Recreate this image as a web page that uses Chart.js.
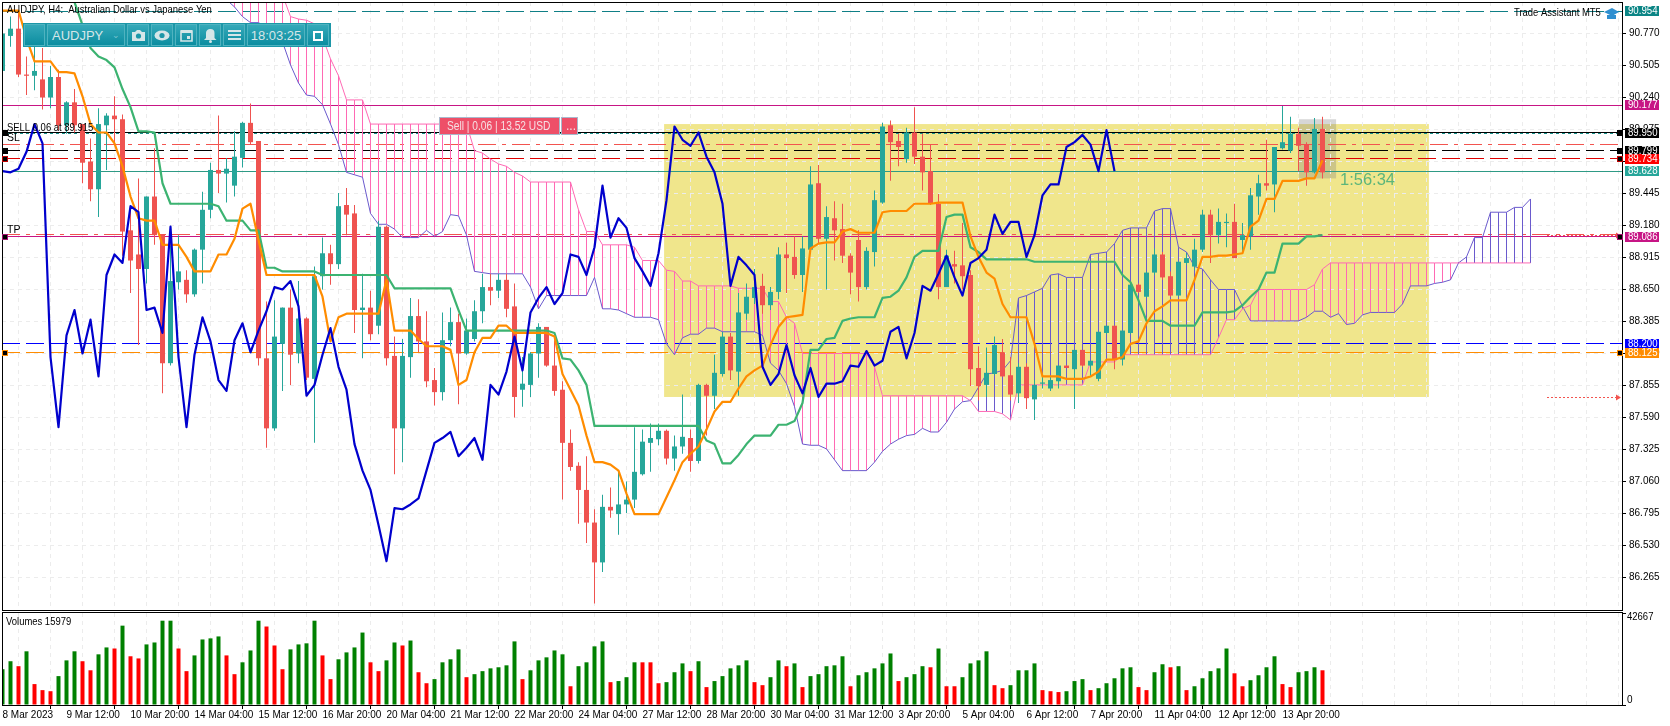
<!DOCTYPE html>
<html>
<head>
<meta charset="utf-8">
<title>AUDJPY H4</title>
<script src="https://cdn.jsdelivr.net/npm/chart.js@4"></script>
<style>
body { margin:0; background:#fff; width:1670px; height:726px; overflow:hidden; }
canvas { position:absolute; left:0; }
#bar { position:absolute; left:23px; top:23px; width:308px; height:24px; background:#1c97a8; display:flex; gap:2px; padding:1px; box-sizing:border-box; font:13px "Liberation Sans",sans-serif; color:#d5e6e8; }
#bar div { height:22px; background:linear-gradient(#35a9b9,#0c8da0); border:1px solid #4fb3c0; box-sizing:border-box; display:flex; align-items:center; justify-content:center; }
</style>
</head>
<body>
<canvas id="price" width="1670" height="612" style="top:0"></canvas>
<canvas id="vols" width="1670" height="114" style="top:612px"></canvas>
<div id="bar">
  <div style="width:21px"></div>
  <div style="width:78px;justify-content:space-between;padding:0 4px"><span>AUDJPY</span><span style="font-size:9px;color:#7cc4cf">&#8964;</span></div>
  <div style="width:22px"><svg width="15" height="13"><path d="M1 3h3l2-2h3l2 2h3v9H1z" fill="#d5e6e8"/><circle cx="7.5" cy="7" r="2.6" fill="#1c97a8"/></svg></div>
  <div style="width:22px"><svg width="16" height="11"><ellipse cx="8" cy="5.5" rx="7.5" ry="5" fill="#d5e6e8"/><circle cx="8" cy="5.5" r="2.6" fill="#1c97a8"/></svg></div>
  <div style="width:22px"><svg width="13" height="14"><path d="M1 3h11v10H1z" fill="none" stroke="#d5e6e8" stroke-width="1.6"/><path d="M1 2h11v3H1zM7 8h3v3H7z" fill="#d5e6e8"/></svg></div>
  <div style="width:22px"><svg width="13" height="15"><path d="M6.5 1a4 4 0 0 1 4 4v5l2 2H0l2-2V5a4 4 0 0 1 4.5-4z" fill="#d5e6e8"/><circle cx="6.5" cy="13.5" r="1.5" fill="#d5e6e8"/></svg></div>
  <div style="width:22px"><svg width="13" height="10"><path d="M0 1h13M0 5h13M0 9h13" stroke="#d5e6e8" stroke-width="2"/></svg></div>
  <div style="width:58px">18:03:25</div>
  <div style="width:22px"><svg width="11" height="11"><rect x="1" y="2" width="8" height="8" fill="none" stroke="#fff" stroke-width="2"/></svg></div>
</div>
<script>
// AUDJPY H4, bar index 0 = 8 Mar 2023
const opens = [90.46,90.75,90.81,90.43,90.42,90.39,90.24,90.41,90.01,90.20,90.02,89.71,89.48,90.01,90.09,90.06,89.14,88.94,88.82,89.42,89.11,88.04,88.71,88.73,88.61,88.98,89.31,89.64,89.61,89.51,89.74,90.03,89.88,88.08,87.50,88.20,88.50,88.12,88.41,87.91,88.76,88.95,88.86,89.35,89.28,88.48,88.50,88.35,89.17,88.10,87.50,88.09,88.43,88.22,87.90,87.80,88.23,88.38,88.12,88.24,88.47,88.67,88.64,88.73,88.51,87.82,87.86,88.12,88.34,88.02,87.82,87.38,87.19,86.99,86.72,86.39,86.85,86.79,86.87,86.91,87.12,87.38,87.41,87.48,87.25,87.35,87.42,87.23,87.86,87.77,87.95,88.26,87.97,88.45,88.58,88.68,88.52,88.63,88.94,88.92,88.77,88.98,89.53,89.07,89.24,89.15,88.93,89.06,88.67,88.96,89.37,90.01,89.88,89.73,89.95,89.75,89.63,89.36,88.67,88.86,88.85,88.77,88.00,87.86,87.95,88.13,87.94,87.79,88.01,87.74,87.87,87.83,87.89,88.02,87.99,88.15,88.02,87.91,88.29,88.35,88.07,88.29,88.69,88.59,88.79,88.94,88.76,88.60,88.87,88.84,88.98,89.27,89.10,89.20,89.21,89.06,89.09,89.42,89.53,89.52,89.82,89.80,89.94,89.85,89.62,89.98];
const highs = [90.85,90.91,90.94,90.58,90.66,90.65,90.50,90.47,90.21,90.31,90.02,89.90,90.15,90.11,90.25,90.10,89.33,89.57,89.42,89.82,89.11,89.03,89.10,88.81,88.99,89.46,89.70,90.09,89.74,89.96,90.04,90.19,89.88,88.55,88.56,88.50,88.65,88.72,88.42,88.84,89.08,89.02,89.45,89.49,89.35,88.78,88.64,89.22,89.18,88.26,88.24,88.58,88.57,88.47,88.00,88.46,88.50,88.45,88.41,88.56,88.78,88.78,88.78,88.78,88.70,88.09,88.13,88.37,88.34,88.23,87.89,87.49,87.22,87.27,86.83,86.95,87.01,87.14,87.06,87.51,87.49,87.54,87.54,87.49,87.44,87.78,87.49,87.87,87.87,88.11,88.30,88.29,88.62,88.70,88.82,88.78,88.67,89.00,89.04,89.09,89.09,89.67,89.68,89.34,89.38,89.36,88.95,89.14,89.00,89.47,90.03,90.05,89.94,89.99,90.16,89.94,89.85,89.44,88.98,88.97,89.20,88.81,88.18,88.17,88.26,88.24,88.09,88.04,88.04,87.90,87.93,87.94,88.02,88.02,88.15,88.15,88.06,88.30,88.35,88.35,88.31,88.69,88.70,88.80,88.99,88.96,88.80,88.88,88.95,89.07,89.31,89.31,89.32,89.28,89.36,89.20,89.49,89.60,89.89,89.83,90.17,90.08,89.99,89.87,90.07,90.08];
const lows = [90.46,90.66,90.41,90.26,90.30,90.14,90.15,89.97,89.94,89.95,89.53,89.38,89.25,89.64,89.86,88.93,88.62,88.19,88.70,89.02,87.79,88.02,88.65,88.54,88.59,88.70,89.24,89.45,89.37,89.42,89.66,89.85,88.02,87.34,87.48,87.81,87.86,88.04,87.90,87.38,88.65,88.69,88.82,89.10,88.29,88.08,88.23,88.28,88.02,87.12,87.22,87.92,88.13,87.84,87.69,87.73,88.18,87.70,88.11,88.22,88.37,88.52,88.58,88.42,87.59,87.68,87.76,87.92,88.01,87.77,86.91,87.15,86.71,86.55,86.05,86.31,86.76,86.62,86.80,86.84,87.11,87.14,87.36,87.20,87.15,87.29,87.14,87.21,87.44,87.66,87.93,87.90,87.77,88.40,88.53,88.45,88.48,88.57,88.62,88.74,88.63,88.95,89.03,88.65,88.89,88.87,88.61,88.55,88.65,88.84,89.36,89.55,89.67,89.70,89.69,89.47,89.35,88.57,88.67,88.70,88.65,87.85,87.73,87.76,87.94,87.93,87.73,87.71,87.66,87.57,87.83,87.81,87.83,88.00,87.66,88.01,87.93,87.89,88.28,87.99,88.02,88.28,88.62,88.58,88.77,88.73,88.59,88.59,88.85,88.81,88.96,88.87,89.03,89.00,88.91,88.95,88.98,89.27,89.47,89.29,89.81,89.78,89.63,89.51,89.61,89.57];
const closes = [90.77,90.81,90.43,90.42,90.46,90.24,90.41,90.01,90.20,90.01,89.70,89.48,90.02,90.09,90.06,89.13,88.89,88.82,89.42,89.10,88.04,88.72,88.80,88.61,88.98,89.31,89.64,89.61,89.65,89.75,90.03,89.87,88.08,87.50,88.26,88.50,88.11,88.41,87.92,88.76,88.95,88.86,89.34,89.27,88.48,88.50,88.28,89.17,88.08,87.50,88.10,88.43,88.22,87.89,87.80,88.23,88.38,88.12,88.31,88.47,88.67,88.64,88.73,88.49,87.76,87.87,88.12,88.34,88.02,87.81,87.38,87.18,86.99,86.72,86.39,86.85,86.82,86.87,86.91,87.14,87.39,87.42,87.48,87.25,87.35,87.43,87.23,87.86,87.77,87.96,88.26,87.98,88.46,88.59,88.67,88.52,88.63,88.94,88.91,88.77,88.99,89.52,89.07,89.25,89.14,88.93,88.79,88.67,88.97,89.39,90.00,89.87,89.83,89.95,89.75,89.62,89.36,88.67,88.93,88.84,88.76,87.99,87.85,87.96,88.19,87.93,87.78,88.01,87.75,87.86,87.88,87.90,88.02,88.00,88.15,88.02,88.06,88.30,88.35,88.07,88.31,88.69,88.63,88.79,88.94,88.75,88.60,88.88,88.91,88.98,89.27,89.10,89.21,89.21,88.91,89.10,89.43,89.53,89.51,89.83,89.87,89.94,89.84,89.62,89.98,89.62];
const tenkan = [90.96,90.96,90.96,90.73,90.54,90.54,90.54,90.45,90.45,90.44,90.25,90.02,89.95,89.95,89.86,89.67,89.42,89.24,89.22,89.22,89.02,89.02,89.02,88.92,88.80,88.80,88.80,88.94,88.94,89.07,89.32,89.36,89.06,88.77,88.77,88.77,88.77,88.77,88.77,88.77,88.59,88.22,88.42,88.45,88.45,88.45,88.45,88.45,88.73,88.31,88.31,88.31,88.24,88.18,88.18,88.18,88.15,87.86,87.90,88.13,88.25,88.25,88.35,88.35,88.29,88.29,88.29,88.29,88.29,88.26,87.95,87.82,87.69,87.44,87.22,87.22,87.20,87.15,86.96,86.79,86.79,86.79,86.79,86.93,87.07,87.22,87.29,87.35,87.49,87.64,87.72,87.72,87.83,87.93,87.98,88.02,88.19,88.34,88.42,88.43,88.44,88.99,89.03,89.04,89.04,89.13,89.15,89.12,89.12,89.12,89.29,89.30,89.30,89.30,89.36,89.36,89.36,89.37,89.37,89.37,89.37,89.09,88.92,88.79,88.74,88.53,88.42,88.42,88.42,88.20,87.93,87.93,87.93,87.91,87.91,87.91,87.93,87.97,88.07,88.07,88.09,88.20,88.22,88.37,88.47,88.51,88.56,88.56,88.56,88.73,88.92,88.92,88.93,88.93,88.94,88.95,89.17,89.22,89.40,89.40,89.55,89.55,89.55,89.57,89.57,89.72];
const kijun = [null,null,null,null,null,null,null,null,null,91.03,90.84,90.65,90.58,90.55,90.49,90.31,90.16,89.96,89.96,89.95,89.53,89.36,89.36,89.36,89.36,89.36,89.36,89.34,89.22,89.22,89.22,89.14,89.14,88.83,88.83,88.80,88.80,88.80,88.80,88.80,88.77,88.77,88.77,88.77,88.77,88.77,88.77,88.77,88.77,88.66,88.66,88.66,88.66,88.66,88.66,88.66,88.66,88.48,88.31,88.31,88.31,88.31,88.31,88.31,88.31,88.31,88.31,88.31,88.31,88.29,88.08,88.07,87.98,87.86,87.52,87.52,87.52,87.52,87.52,87.52,87.52,87.52,87.52,87.52,87.52,87.52,87.52,87.52,87.40,87.37,87.21,87.21,87.28,87.37,87.44,87.44,87.44,87.53,87.53,87.56,87.71,88.15,88.15,88.24,88.25,88.39,88.41,88.42,88.42,88.42,88.58,88.59,88.64,88.75,88.92,88.97,88.97,88.97,89.25,89.27,89.27,89.00,88.96,88.90,88.90,88.90,88.90,88.90,88.90,88.88,88.88,88.88,88.88,88.88,88.88,88.88,88.88,88.88,88.88,88.88,88.77,88.71,88.56,88.39,88.39,88.39,88.35,88.35,88.35,88.35,88.46,88.46,88.46,88.46,88.47,88.52,88.59,88.65,88.79,88.79,89.03,89.03,89.03,89.09,89.09,89.10];
const chikou = [89.63,89.62,89.65,89.79,90.02,89.86,88.09,87.51,88.27,88.48,88.12,88.40,87.93,88.77,88.94,88.87,89.34,89.29,88.48,88.50,88.29,89.17,88.09,87.51,88.11,88.42,88.22,87.90,87.81,88.23,88.37,88.13,88.31,88.47,88.67,88.65,88.72,88.51,87.77,87.86,88.11,88.33,88.01,87.82,87.37,87.15,86.99,86.70,86.40,86.84,86.83,86.87,86.92,87.15,87.38,87.42,87.47,87.27,87.34,87.42,87.24,87.86,87.78,87.97,88.26,87.98,88.46,88.58,88.67,88.53,88.62,88.94,88.92,88.77,89.00,89.51,89.08,89.24,89.16,88.91,88.80,88.68,88.95,89.39,90.00,89.89,89.84,89.95,89.75,89.62,89.36,88.68,88.92,88.85,88.77,88.01,87.86,87.95,88.19,87.94,87.79,88.00,87.76,87.87,87.87,87.89,88.02,88.01,88.14,88.02,88.06,88.30,88.34,88.08,88.29,88.68,88.64,88.78,88.93,88.75,88.60,88.87,88.91,88.98,89.27,89.11,89.21,89.21,88.92,89.10,89.43,89.52,89.52,89.83,89.87,89.93,89.85,89.63,89.97,89.63];
const spanA = [null,null,null,null,null,null,null,null,null,null,null,null,null,null,null,null,null,null,null,null,null,null,null,null,null,null,null,null,null,91.21,91.21,91.21,91.21,91.21,91.21,91.09,90.91,90.89,90.88,90.85,90.74,90.56,90.42,90.22,90.22,90.22,90.02,90.02,90.02,90.02,90.02,90.02,90.02,90.02,90.02,90.02,90.02,90.02,90.02,89.80,89.78,89.73,89.69,89.67,89.62,89.59,89.54,89.54,89.54,89.54,89.54,89.54,89.31,89.13,89.13,89.02,89.02,89.02,89.02,89.00,88.89,88.89,88.89,88.81,88.80,88.72,88.72,88.68,88.68,88.68,88.68,88.68,88.66,88.66,88.66,88.66,88.55,88.55,88.42,88.37,88.12,88.12,88.12,88.12,88.12,88.12,88.12,88.12,88.12,88.01,87.77,87.77,87.77,87.77,87.77,87.77,87.77,87.77,87.77,87.77,87.77,87.73,87.64,87.64,87.64,87.62,87.57,87.86,87.86,87.86,87.86,87.86,87.86,87.86,87.86,87.86,88.05,88.05,88.05,88.05,88.11,88.11,88.11,88.11,88.11,88.11,88.11,88.11,88.11,88.11,88.11,88.11,88.25,88.40,88.40,88.49,88.52,88.65,88.65,88.65,88.65,88.65,88.65,88.65,88.69,88.82,88.87,88.87,88.87,88.87,88.87,88.87,88.87,88.87,88.87,88.87,88.87,88.87,88.87,88.87,88.87,88.87,88.87,88.87,88.87,88.87,88.87,88.87,88.87,88.87,88.87,88.87];
const spanB = [null,null,null,null,null,null,null,null,null,null,null,null,null,null,null,null,null,null,null,null,null,null,null,null,null,null,null,null,91.05,90.99,90.91,90.86,90.86,90.82,90.77,90.70,90.51,90.36,90.26,90.25,90.18,90.02,89.85,89.62,89.60,89.58,89.28,89.19,89.19,89.15,89.08,89.08,89.08,89.14,89.09,89.13,89.27,89.26,89.10,88.80,88.79,88.78,88.78,88.78,88.78,88.78,88.67,88.49,88.60,88.60,88.60,88.60,88.60,88.60,88.75,88.49,88.49,88.48,88.45,88.42,88.42,88.42,88.40,88.20,88.11,88.25,88.28,88.28,88.33,88.33,88.30,88.30,88.30,88.30,88.30,88.27,88.04,87.98,87.87,87.68,87.37,87.36,87.36,87.33,87.24,87.15,87.15,87.15,87.15,87.22,87.31,87.37,87.41,87.44,87.45,87.50,87.47,87.47,87.55,87.66,87.72,87.73,87.84,87.95,87.96,87.98,88.06,88.58,88.60,88.63,88.66,88.77,88.78,88.75,88.75,88.75,88.94,88.95,88.96,89.03,89.14,89.16,89.16,89.16,89.30,89.32,89.32,89.00,88.96,88.84,88.82,88.73,88.65,88.65,88.65,88.51,88.39,88.39,88.39,88.39,88.39,88.39,88.39,88.42,88.47,88.47,88.42,88.45,88.36,88.37,88.44,88.46,88.46,88.46,88.46,88.53,88.68,88.68,88.68,88.70,88.71,88.73,88.87,88.92,89.08,89.08,89.29,89.29,89.29,89.33,89.33,89.40];
const volumes = [16600,20300,18000,24900,9700,6900,6400,13400,20700,24900,20300,16100,23500,26700,26200,36800,22600,21600,28100,29000,39100,39100,26200,15700,23000,30400,30900,31800,23000,14300,19800,25300,39100,36400,27600,16600,25800,28100,28600,39100,23000,12000,21200,24400,26700,33600,19800,15700,20700,29000,27600,29900,15200,10100,12000,19800,21200,25800,12900,14300,15700,17000,17500,18400,29500,12000,16100,20700,22100,25300,23500,8700,18000,19800,27200,29500,10600,11100,12900,19800,19800,19800,10100,10600,15200,19300,15700,20300,8300,11100,13400,17000,18400,20700,10600,9200,12900,20700,18000,19300,8300,13400,14300,18000,18400,22600,8700,13800,15200,17000,19300,23900,11100,12900,14300,18000,17500,26200,8700,8700,12900,19300,20700,24900,9200,7800,9200,16100,16100,19300,6900,6400,6000,6400,11100,12000,6900,7800,10100,12400,17000,17500,8300,6900,15200,18900,17500,18000,6900,8700,12400,15700,17000,26200,14700,8700,11500,13800,17500,22600,9700,8300,15200,15700,17500,16100];
const volDown = [2,4,5,6,10,11,14,16,17,22,23,28,29,33,34,35,40,41,46,47,50,52,53,58,65,71,76,80,81,82,86,88,94,95,98,100,106,112,116,118,119,124,125,130,131,132,136,142,143,146,148,154,155,160,161,165];
const priceTicks = [90.770,90.505,90.240,89.975,89.710,89.445,89.180,88.915,88.650,88.385,88.120,87.855,87.590,87.325,87.060,86.795,86.530,86.265];
const timeLabels = ["8 Mar 2023","9 Mar 12:00","10 Mar 20:00","14 Mar 04:00","15 Mar 12:00","16 Mar 20:00","20 Mar 04:00","21 Mar 12:00","22 Mar 20:00","24 Mar 04:00","27 Mar 12:00","28 Mar 20:00","30 Mar 04:00","31 Mar 12:00","3 Apr 20:00","5 Apr 04:00","6 Apr 12:00","7 Apr 20:00","11 Apr 04:00","12 Apr 12:00","13 Apr 20:00"];
const levels = [90.954,90.177,89.950,89.940,89.850,89.799,89.734,89.628,89.086,89.104,88.200,88.125];
const tradeBox = [82.7,178.3,90.02,87.76];
const candleBox = [162.06,166.7,90.06,89.57];

const UP = '#26a69a', DOWN = '#ef5350', SANS = '"Liberation Sans",sans-serif';
const XMIN = -0.0625, XMAX = 202.4375; // one bar is 8 px wide
const levelStyle = [
  {color:'#0f7f86', dash:[18,6], tag:'#0b8585', text:'90.954'},
  {color:'#c71585', dash:[], tag:'#c71585', text:'90.177'},
  {color:'#000', dash:[], tag:'#000', text:'89.950', handle:'#000'},
  {color:'#17908a', dash:[3,3]},
  {color:'#f2544f', dash:[18,6,4,6]},
  {color:'#000', dash:[18,6], tag:'#000', text:'89.799', handle:'#000'},
  {color:'#e00000', dash:[18,6], tag:'#ff0000', text:'89.734', handle:'#c00000'},
  {color:'#2e9a85', dash:[], tag:'#26a69a', text:'89.628'},
  {color:'#c71585', dash:[], tag:'#c71585', text:'89.086', handle:'#a0146e'},
  {color:'#f2544f', dash:[18,6,4,6]},
  {color:'#0000ff', dash:[18,6], tag:'#0000ff', text:'88.200'},
  {color:'#ff8c00', dash:[18,6], tag:'#ff8c00', text:'88.125', handle:'#ff8c00'}
];

const pts = arr => arr.map((v,k) => ({x:k, y:v}));
const ranges = (a,b) => a.map((v,k) => ({x:k, y:[v,b[k]]}));
const hatch = spanA.map((v,k) => (v===null||spanB[k]===null) ? {x:k,y:null} : {x:k,y:[v,spanB[k]]});
const hatchColors = spanA.map((v,k) => v>spanB[k] ? '#ff69b4' : '#6a5acd');
const candleColors = opens.map((v,k) => closes[k]>=v ? UP : DOWN);

function barSet(data, color, width, order) {
  return {type:'bar', data, backgroundColor:color, barThickness:width, grouped:false, order,
    borderWidth:0, inflateAmount:0, minBarLength:1};
}
function lineSet(data, color, width, order) {
  return {type:'line', data:pts(data), borderColor:color, borderWidth:width, pointRadius:0, tension:0, order, borderJoinStyle:'round'};
}

function handle(ctx, x, y, color) {
  ctx.fillStyle = color; ctx.fillRect(x-3, y-3, 6, 6);
  ctx.fillStyle = '#000'; ctx.fillRect(x-2, y-2, 4, 4);
}
function label(ctx, text, x, y, size, color, sx) {
  ctx.save();
  ctx.font = size+'px '+SANS; ctx.fillStyle = color || '#000'; ctx.textAlign = 'left'; ctx.textBaseline = 'middle';
  ctx.translate(x,y); ctx.scale(sx||1,1);
  ctx.fillText(text, 0, 0);
  ctx.restore();
}

const priceDecor = {
  id:'priceDecor',
  beforeDraw(c) {
    const {ctx, scales:{x,y}} = c;
    const box = (b,color) => { ctx.fillStyle=color; ctx.fillRect(x.getPixelForValue(b[0]), y.getPixelForValue(b[2]), x.getPixelForValue(b[1])-x.getPixelForValue(b[0]), y.getPixelForValue(b[3])-y.getPixelForValue(b[2])); };
    box(tradeBox,'#f0e68c');
    box(candleBox,'rgba(128,128,128,0.32)');
  },
  beforeDatasetsDraw(c) {
    const {ctx, chartArea:a, scales:{y}} = c;
    ctx.save(); ctx.lineWidth = 1;
    levels.forEach((p,i) => {
      const py = Math.round(y.getPixelForValue(p)-0.5)+0.5;
      ctx.strokeStyle = levelStyle[i].color; ctx.setLineDash(levelStyle[i].dash);
      ctx.beginPath(); ctx.moveTo(a.left, py); ctx.lineTo(a.right, py); ctx.stroke();
    });
    ctx.restore();
  },
  afterDraw(c) {
    const {ctx, scales:{y}} = c;
    ctx.save();
    // arrows on the right
    ctx.strokeStyle = '#f2544f'; ctx.fillStyle = '#f2544f'; ctx.setLineDash([2,2]);
    [levels[9], tradeBox[3]].forEach(p => {
      const py = Math.round(y.getPixelForValue(p))+0.5;
      ctx.beginPath(); ctx.moveTo(1547,py); ctx.lineTo(1616,py); ctx.stroke();
      ctx.beginPath(); ctx.moveTo(1621,py); ctx.lineTo(1616,py-3); ctx.lineTo(1616,py+3); ctx.fill();
    });
    ctx.setLineDash([]);
    // frame
    ctx.strokeStyle = '#000'; ctx.lineWidth = 1;
    ctx.strokeRect(2.5,2.5,1620,608);
    // price tags
    [0,1,2,5,6,7,8,10,11].forEach(i => {
      const s = levelStyle[i], py = Math.round(y.getPixelForValue(levels[i]));
      ctx.fillStyle = s.tag; ctx.fillRect(1625, py-5, 34, 10);
      label(ctx, s.text, 1628, py+0.5, 10.5, '#fff', 0.92);
      if (s.handle) { handle(ctx, 1620, py, s.handle); handle(ctx, 5, py, s.handle); }
    });
    // texts
    label(ctx,'AUDJPY, H4:  Australian Dollar vs Japanese Yen',7,10,10.5,'#000',0.9);
    label(ctx,'SELL 0.06 at 89.915',7,128.5,10.5,'#000',0.9);
    label(ctx,'SL',7,138.5,10.5);
    label(ctx,'TP',7,230,10.5);
    label(ctx,'Trade Assistant MT5',1514,13.5,10.5,'#000',0.9);
    label(ctx,'1:56:34',1340,180.5,16.5,'#5cb57a');
    // cap icon
    ctx.fillStyle = '#2f8fd0'; ctx.beginPath(); ctx.moveTo(1604,12); ctx.lineTo(1612,8); ctx.lineTo(1619,12); ctx.lineTo(1612,16); ctx.fill();
    ctx.fillRect(1607,15,9,4);
    // sell button
    ctx.fillStyle = '#ee4f68'; ctx.strokeStyle = '#a9b8cc';
    ctx.fillRect(439.5,117.5,120,17); ctx.strokeRect(439.5,117.5,120,17);
    ctx.fillRect(561.5,117.5,16,17); ctx.strokeRect(561.5,117.5,16,17);
    label(ctx,'Sell | 0.06 | 13.52 USD',447,126.5,12,'#f6e0e4',0.85);
    label(ctx,'...',566,126.5,12,'#f6e0e4');
    ctx.restore();
  }
};

new Chart(document.getElementById('price'), {
  data: {datasets: [
    barSet(hatch, hatchColors, 1, 9),
    barSet(ranges(lows,highs), candleColors, 1, 6),
    barSet(ranges(opens,closes), candleColors, 5, 5),
    lineSet(spanA, '#ff69b4', 1, 7),
    lineSet(spanB, '#6a5acd', 1, 7),
    lineSet(kijun, '#3cb371', 2.2, 3),
    lineSet(tenkan, '#ff8c00', 2.2, 2),
    lineSet(chikou, '#0000cd', 2.2, 1)
  ]},
  options: {
    responsive:false, animation:false, devicePixelRatio:1,
    layout:{padding:{left:2,top:2,right:0,bottom:2}},
    plugins:{legend:{display:false}, tooltip:{enabled:false}},
    scales:{
      x:{type:'linear', min:XMIN, max:XMAX, offset:false,
        afterBuildTicks(s){ const t=[]; for(let k=0;k<=200;k+=4) t.push({value:k}); s.ticks=t; },
        afterFit(s){ s.height=0; s.paddingLeft=0; s.paddingRight=0; },
        ticks:{display:false}, grid:{color:'#ececec', drawTicks:false}, border:{display:false, dash:[4,4]}},
      y:{type:'linear', position:'right', min:85.9958, max:91.0309,
        afterBuildTicks(s){ s.ticks=priceTicks.map(v=>({value:v})); },
        afterFit(s){ s.width=48; s.paddingTop=0; s.paddingBottom=0; },
        ticks:{callback:v=>v.toFixed(3), color:'#000', padding:3, font:{family:SANS,size:10}, autoSkip:false},
        grid:{color:'#ececec', tickColor:'#000', tickLength:4, tickBorderDash:[]}, border:{display:false, dash:[4,4]}}
    }
  },
  plugins:[priceDecor]
});

const volColors = volumes.map((v,k) => volDown.includes(k) ? '#ff0000' : '#008000');
const volDecor = {
  id:'volDecor',
  afterDraw(c) {
    const {ctx} = c;
    ctx.save();
    ctx.strokeStyle='#000'; ctx.lineWidth=1; ctx.strokeRect(2.5,0.5,1620,93);
    label(ctx,'Volumes 15979',6,10,10.5,'#000',0.9);
    label(ctx,'42667',1627,5.5,10,'#000',0.95);
    label(ctx,'0',1627,88,10);
    ctx.restore();
  }
};
new Chart(document.getElementById('vols'), {
  data:{datasets:[{type:'bar', data:pts(volumes), backgroundColor:volColors, barThickness:4, borderWidth:0, inflateAmount:0}]},
  options:{
    responsive:false, animation:false, devicePixelRatio:1,
    layout:{padding:{left:2,top:1,right:0,bottom:0}},
    plugins:{legend:{display:false}, tooltip:{enabled:false}},
    scales:{
      x:{type:'linear', min:XMIN, max:XMAX, offset:false, position:'bottom',
        afterBuildTicks(s){ const t=[]; for(let k=0;k<=200;k+=4) t.push({value:k}); s.ticks=t; },
        afterFit(s){ s.height=21; s.paddingLeft=0; s.paddingRight=0; },
        ticks:{callback:v=>v%8===0 ? (timeLabels[v/8]||'') : '', autoSkip:false, maxRotation:0, align:'start', color:'#000', padding:0, font:{family:SANS,size:10}},
        grid:{color:'#ececec', tickLength:4, tickColor:ctx=>(ctx.tick && ctx.tick.value%8===0 && ctx.tick.value<=160)?'#000':'transparent', tickBorderDash:[]}, border:{display:false, dash:[4,4]}},
      y:{type:'linear', position:'right', min:0, max:42667,
        afterBuildTicks(s){ s.ticks=[{value:0},{value:42667}]; },
        afterFit(s){ s.width=48; s.paddingTop=0; s.paddingBottom=0; },
        ticks:{display:false},
        grid:{drawOnChartArea:false, tickColor:'#000', tickLength:4}, border:{display:false}}
    }
  },
  plugins:[volDecor]
});
</script>
</body>
</html>
